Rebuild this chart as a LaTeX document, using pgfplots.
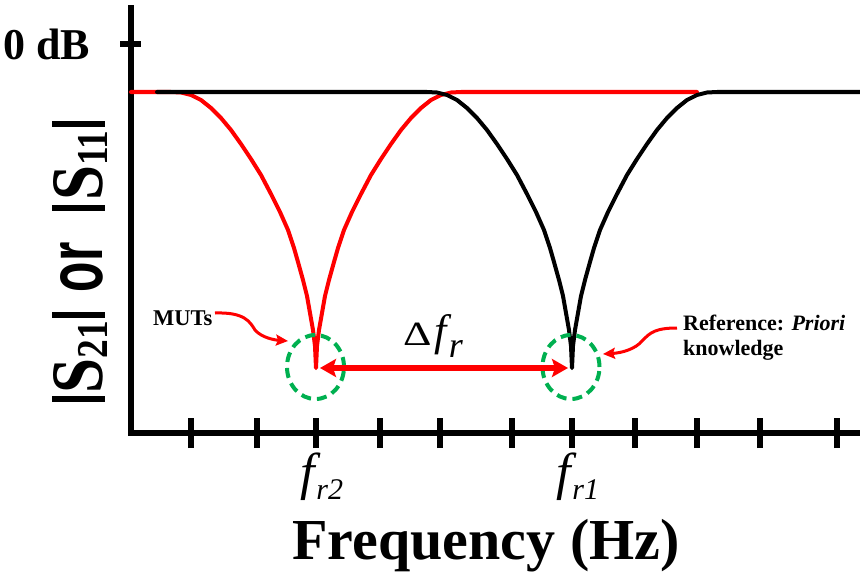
\documentclass[border=0pt]{standalone}
\usepackage{fontspec}
\setmainfont{Liberation Serif}
\setsansfont{Liberation Sans}
\usepackage{pgfplots}
\pgfplotsset{compat=1.18}
\usetikzlibrary{arrows.meta}
\definecolor{mygreen}{RGB}{0,176,80}
\newcommand{\flab}[1]{{\rmfamily\fontsize{52}{52}\selectfont\itshape f\kern1pt\raisebox{-10pt}{\fontsize{30}{30}\selectfont #1}}}
\newcommand{\vb}{\rule[-2pt]{7pt}{53pt}}
\begin{document}
\begin{tikzpicture}
\begin{axis}[
  x=1pt, y=1pt,
  xmin=0, xmax=729, ymin=0, ymax=425,
  axis lines=left,
  axis line style={-, line width=6.5pt, line cap=rect},
  x axis line style={-}, y axis line style={-},
  clip=false,
  tick align=center,
  major tick length=30pt,
  tick style={line width=6pt, black},
  xtick={60,126,185,249,309,381,441,504,566,629,706},
  xticklabels={,,{\flab{r2}},,,,{\flab{r1}},,,,},
  xticklabel style={anchor=north, yshift=-1pt, xshift=6pt},
  ytick=\empty,
  extra y ticks={389},
  extra y tick labels={{\rmfamily\fontsize{44}{44}\selectfont\bfseries 0 dB}},
  extra y tick style={major tick length=21pt, tick align=center, yticklabel style={xshift=-27pt}},
  xlabel={\rmfamily\fontsize{58}{58}\selectfont\bfseries Frequency (Hz)},
  xlabel style={at={(axis cs:355,-126)}, anchor=base, inner sep=0pt},
  ylabel={\scalebox{0.85}[1]{\rmfamily\fontsize{74}{74}\selectfont\bfseries\vb\kern3pt S\raisebox{-5pt}{\fontsize{44}{44}\selectfont 21}\kern4pt\vb\kern23pt\scalebox{0.75}[1]{\sffamily\fontsize{78}{78}\selectfont or}\kern37pt\vb\kern5pt S\raisebox{-5pt}{\fontsize{44}{44}\selectfont 11}\kern4pt\vb}},
  ylabel style={at={(axis cs:-28,171.5)}, anchor=base, inner sep=0pt},
]
% MUT (red) response
\addplot[red, line width=4pt, line join=round, line cap=round, mark=none] coordinates {
(0,341) (30,341) (40,341) (50,340.5) (60,338) (70,333) (80,325) (90,315) (100,303) (110,289) (120,274) (130,258) (140,239) (149,221) (157,203) (163,185) (167,171) (172,153) (176,137) (179,120) (182,103) (184,87) (185,65)
(186,87) (188,103) (191,120) (194,137) (198,153) (203,171) (207,185) (213,203) (221,221) (230,239) (240,258) (250,274) (260,289) (270,303) (280,315) (290,325) (300,333) (310,338) (320,340.5) (330,341) (340,341) (566,341)
};
% Reference (black) response
\addplot[black, line width=4pt, line join=round, line cap=round, mark=none] coordinates {
(26,341) (286,341) (296,341) (306,340.5) (316,338) (326,333) (336,325) (346,315) (356,303) (366,289) (376,274) (386,258) (396,239) (405,221) (413,203) (419,185) (423,171) (428,153) (432,137) (435,120) (438,103) (440,87) (441,65)
(442,87) (444,103) (447,120) (450,137) (454,153) (459,171) (463,185) (469,203) (477,221) (486,239) (496,258) (506,274) (516,289) (526,303) (536,315) (546,325) (556,333) (566,338) (576,340.5) (586,341) (596,341) (729,341)
};
% annotations
\draw[mygreen, line width=4pt, dash pattern=on 10pt off 6pt] (axis cs:184.5,66) ellipse [x radius=28.5pt, y radius=32pt];
\draw[mygreen, line width=4pt, dash pattern=on 10pt off 6pt] (axis cs:440,66) ellipse [x radius=28.5pt, y radius=32pt];
\draw[red, line width=5.5pt, {Stealth[length=16pt,width=18pt,inset=3pt]}-{Stealth[length=16pt,width=18pt,inset=3pt]}] (axis cs:189,65) -- (axis cs:437,65);
\node[anchor=base west, inner sep=0pt] at (axis cs:272,88) {\rmfamily{\fontsize{34}{34}\selectfont\scalebox{1.3}[1]{Δ}}\kern3pt{\fontsize{44}{44}\selectfont\itshape f}\kern2pt\raisebox{-12pt}{\fontsize{36}{36}\selectfont\itshape r}};
\node[anchor=base west, inner sep=0pt] at (axis cs:22,108) {\rmfamily\fontsize{22.5}{22.5}\selectfont\bfseries MUTs};
\node[anchor=base west, inner sep=0pt] at (axis cs:552,103) {\rmfamily\fontsize{22}{22}\selectfont\bfseries Reference: \textit{Priori}};
\node[anchor=base west, inner sep=0pt] at (axis cs:552,78) {\rmfamily\fontsize{22}{22}\selectfont\bfseries knowledge};
\draw[red, line width=3pt, -{Stealth[length=12pt,width=11pt,inset=2pt]}] (axis cs:84,120) .. controls (axis cs:114,121) and (axis cs:119,111) .. (axis cs:124,103) .. controls (axis cs:131,95) and (axis cs:144,93) .. (axis cs:157,92);
\draw[red, line width=3pt, -{Stealth[length=12pt,width=11pt,inset=2pt]}] (axis cs:546,105) .. controls (axis cs:524,105) and (axis cs:519,100) .. (axis cs:512,93) .. controls (axis cs:504,83) and (axis cs:489,80) .. (axis cs:472,79);
\coordinate (bl) at (axis cs:-131,-138);
\coordinate (tr) at (axis cs:729,433);
\end{axis}
\pgfresetboundingbox
\useasboundingbox (bl) rectangle (tr);
\end{tikzpicture}
\end{document}
